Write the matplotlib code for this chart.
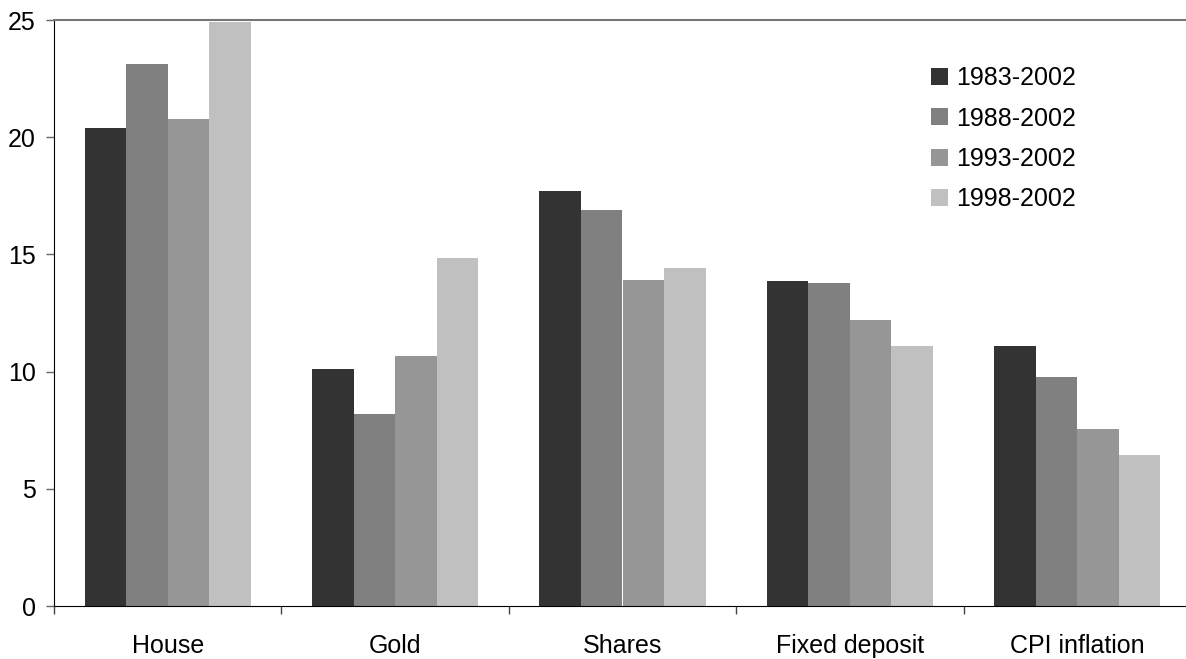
import matplotlib
matplotlib.use("Agg")
import matplotlib.pyplot as plt
import numpy as np
from matplotlib.patches import Patch

plt.rcParams["font.family"] = ["Liberation Sans", "DejaVu Sans"]

categories = ["House", "Gold", "Shares", "Fixed deposit", "CPI inflation"]
periods = ["1983-2002", "1988-2002", "1993-2002", "1998-2002"]
returns_1983 = [20.39, 10.11, 17.70, 13.87, 11.09]
returns_1988 = [23.12, 8.19, 16.89, 13.78, 9.77]
returns_1993 = [20.78, 10.67, 13.90, 12.20, 7.55]
returns_1998 = [24.91, 14.86, 14.42, 11.09, 6.44]
series = [returns_1983, returns_1988, returns_1993, returns_1998]
colors = ["#333333", "#808080", "#969696", "#c0c0c0"]

fig = plt.figure(figsize=(11.86, 6.59), dpi=100)
ax = fig.add_axes([54 / 1186, 53 / 659, 1137 / 1186, 586 / 659])

x = np.arange(len(categories))
width = 0.1825
for i, (values, color) in enumerate(zip(series, colors)):
    ax.bar(x + (i - 1.5) * width, values, width, color=color, linewidth=0)

ax.set_xlim(-0.5, len(categories) - 0.5)
ax.set_ylim(0, 25)
ax.set_yticks(np.arange(0, 26, 5))

# category labels centred, tick marks on the boundaries between groups
ax.set_xticks(x, categories)
ax.set_xticks(np.arange(-0.5, len(categories)), minor=True)
ax.tick_params(axis="x", which="major", length=0, pad=20, labelsize=18)
ax.tick_params(axis="x", which="minor", length=5.5, width=1, color="#444444")
ax.tick_params(axis="y", length=6, width=1, color="#666666", pad=7, labelsize=18)

ax.spines["right"].set_visible(False)
ax.spines["top"].set_color("#777777")
ax.spines["top"].set_linewidth(1.5)
ax.spines["left"].set_color("#000000")
ax.spines["bottom"].set_color("#000000")

handles = [Patch(facecolor=c, edgecolor="none") for c in colors]
ax.legend(
    handles,
    periods,
    loc="upper left",
    bbox_to_anchor=(931 / 1186, 1 - 66 / 659),
    bbox_transform=fig.transFigure,
    frameon=False,
    fontsize=18,
    handlelength=0.66,
    handleheight=0.66,
    handletextpad=0.33,
    labelspacing=0.66,
    borderpad=0,
    borderaxespad=0,
)

fig.savefig("out.png", dpi=100)
